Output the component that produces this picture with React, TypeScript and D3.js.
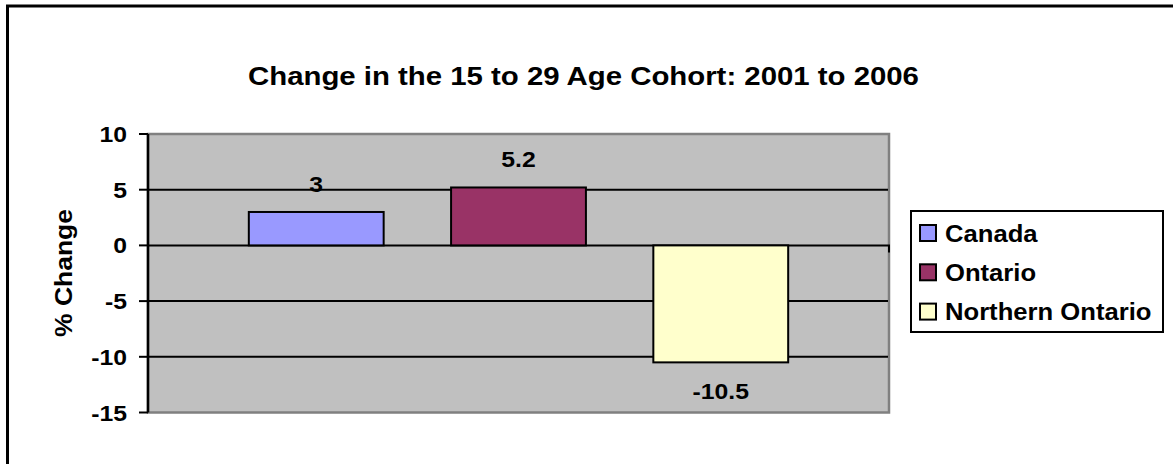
import React from "react";
import * as d3 from "d3";

const title = "Change in the 15 to 29 Age Cohort: 2001 to 2006";
const yAxisTitle = "% Change";
const seriesNames = ["Canada", "Ontario", "Northern Ontario"];
const seriesValues = [3, 5.2, -10.5];
const seriesColors = ["#9999FF", "#993366", "#FFFFCC"];
const yTicks = [10, 5, 0, -5, -10, -15];

const W = 1173;
const H = 464;
const FONT = "'Liberation Sans', Arial, Helvetica, sans-serif";
const SX = 1.1;

const plot = { left: 148, right: 889, top: 134, bottom: 412.5 };

function SText(props: {
  x: number;
  y: number;
  size: number;
  anchor?: string;
  rotate?: number;
  sx?: number;
  children: React.ReactNode;
}) {
  const { x, y, size, anchor = "start", rotate = 0, sx = SX } = props;
  const tr = rotate
    ? `translate(${x},${y}) rotate(${rotate}) scale(1,${sx})`
    : `translate(${x},${y}) scale(${sx},1)`;
  return (
    <text
      transform={tr}
      fontFamily={FONT}
      fontWeight="bold"
      fontSize={size}
      textAnchor={anchor}
      fill="#000"
    >
      {props.children}
    </text>
  );
}

export default function App() {
  const y = d3.scaleLinear().domain([-15, 10]).range([plot.bottom, plot.top]);
  const cat = d3
    .scaleBand<string>()
    .domain(["all"])
    .range([plot.left + 0.5, plot.right - 0.5])
    .paddingOuter(0.186);
  const x = d3
    .scaleBand<string>()
    .domain(seriesNames)
    .range([cat("all")!, cat("all")! + cat.bandwidth()])
    .paddingInner(1 / 3);

  const legend = { x: 911, y: 211, w: 252, h: 121 };

  return (
    <svg
      width={W}
      height={H}
      style={{ position: "absolute", left: 0, top: 0, display: "block", background: "#fff" }}
    >
      {/* outer chart border */}
      <rect x={7.5} y={6} width={W + 20} height={H + 20} fill="#fff" stroke="#000" strokeWidth={3} />

      {/* title */}
      <SText x={583.5} y={85} size={26.7} anchor="middle">
        {title}
      </SText>

      {/* plot area */}
      <rect
        x={plot.left}
        y={plot.top}
        width={plot.right - plot.left}
        height={plot.bottom - plot.top}
        fill="#C0C0C0"
        stroke="#808080"
        strokeWidth={2.5}
      />

      {/* gridlines */}
      {yTicks
        .filter((t) => t !== 10 && t !== -15)
        .map((t) => (
          <line
            key={"g" + t}
            x1={plot.left}
            x2={t === 0 ? plot.right + 1 : plot.right - 1}
            y1={y(t)}
            y2={y(t)}
            stroke="#000"
            strokeWidth={2}
          />
        ))}

      {/* category axis tick at right end */}
      <line x1={plot.right} x2={plot.right} y1={y(0)} y2={y(0) + 7} stroke="#000" strokeWidth={2} />

      {/* bars */}
      {seriesNames.map((s, i) => {
        const v = seriesValues[i];
        const y0 = y(Math.max(0, v));
        const y1 = y(Math.min(0, v));
        return (
          <rect
            key={s}
            x={x(s)!}
            y={y0}
            width={x.bandwidth()}
            height={y1 - y0}
            fill={seriesColors[i]}
            stroke="#000"
            strokeWidth={2}
          />
        );
      })}

      {/* data labels */}
      {seriesNames.map((s, i) => {
        const v = seriesValues[i];
        const cx = x(s)! + x.bandwidth() / 2;
        const ly = v >= 0 ? y(v) - 20 : y(v) + 37;
        return (
          <SText key={"l" + s} x={cx} y={ly} size={22.5} anchor="middle">
            {String(v)}
          </SText>
        );
      })}

      {/* y axis */}
      <line x1={plot.left} x2={plot.left} y1={plot.top} y2={plot.bottom} stroke="#000" strokeWidth={2.5} />
      {yTicks.map((t) => (
        <g key={"t" + t}>
          <line x1={139} x2={plot.left} y1={y(t)} y2={y(t)} stroke="#000" strokeWidth={2} />
          <SText x={127} y={y(t) + 8} size={22.5} anchor="end">
            {String(t)}
          </SText>
        </g>
      ))}

      {/* y axis title */}
      <SText x={72} y={273} size={26.5} anchor="middle" rotate={-90} sx={0.92}>
        {yAxisTitle}
      </SText>

      {/* legend */}
      <rect
        x={legend.x}
        y={legend.y}
        width={legend.w}
        height={legend.h}
        fill="#fff"
        stroke="#000"
        strokeWidth={2}
      />
      {seriesNames.map((s, i) => {
        const cy = 233 + i * 39.3;
        return (
          <g key={"lg" + s}>
            <rect x={920} y={cy - 8} width={16} height={16} fill={seriesColors[i]} stroke="#000" strokeWidth={2} />
            <SText x={945} y={cy + 8.5} size={23.3}>
              {s}
            </SText>
          </g>
        );
      })}
    </svg>
  );
}
